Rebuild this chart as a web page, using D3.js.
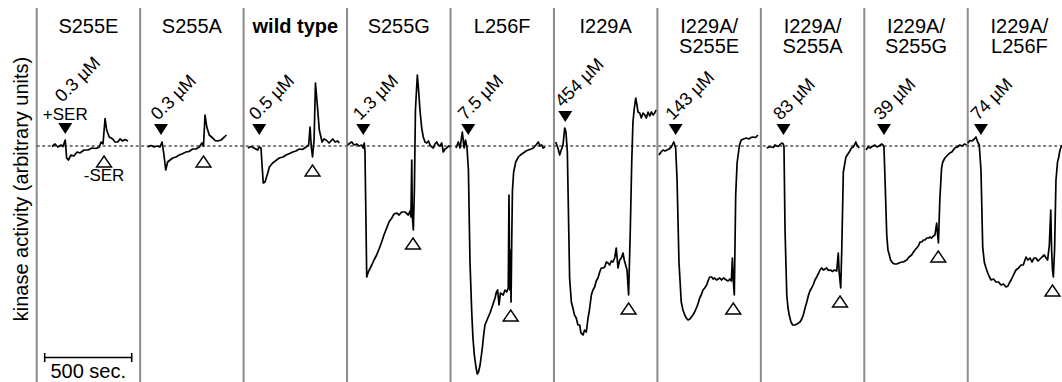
<!DOCTYPE html>
<html><head><meta charset="utf-8">
<script src="https://cdn.jsdelivr.net/npm/d3@7"></script>
<style>
html,body{margin:0;padding:0;background:#fff;}
svg{display:block;font-family:"Liberation Sans",Arial,Helvetica,sans-serif;}
</style>
</head><body>
<svg id="chart" width="1062" height="382"></svg>
<script>
// ---------------- data ----------------
const mutants = ["S255E","S255A","wild type","S255G","L256F","I229A","I229A/S255E","I229A/S255A","I229A/S255G","I229A/L256F"];
const concentrations = [0.3, 0.3, 0.5, 1.3, 7.5, 454, 143, 83, 39, 74];
const concUnit = "µM";
const addTimes = [164, 120, 90, 93, 102, 65, 105, 130, 113, 76];        // s, +SER (filled marker)
const removeTimes = [387, 364, 396, 379, 346, 429, 436, 455, 425, 487]; // s, -SER (open marker)
const addLabel = "+SER";
const removeLabel = "-SER";
const annotatedMutant = "S255E";
const referenceMutant = "wild type";
const scaleBarSeconds = 500;
const scaleBarLabel = "500 sec.";
const yLabel = "kinase activity (arbitrary units)";

// traces: [time (s), activity (a.u., 0 = baseline)]
const traceS255E = [[88,-0.5],[105,2],[122,-1],[140,1],[151,-0.5],[164,6],[172,-12],[182,-14],[197,-9],[214,-10],[232,-6],[249,-7],[272,-4],[295,-4],[318,-2],[341,-2.5],[360,-1],[370,4],[381,2],[393,27.5],[402,16],[417,9],[437,7],[450,4],[466,4],[479,7],[494,5],[507,6.5],[525,5]];
const traceS255A = [[43,-1],[62,0.5],[80,-1],[97,0],[114,-1],[126,4],[137,-9],[147,-24],[158,-16],[172,-14],[187,-12],[206,-11],[225,-9],[246,-7.5],[264,-6],[281,-5.5],[302,-3],[321,-3],[340,-1],[355,3],[364,0],[373,31],[383,19],[397,11],[417,8],[430,5.5],[446,5],[465,6],[484,9],[496,11]];
const traceWT = [[24,-2],[43,-0.5],[60,-2],[81,-4],[90,-1],[100,-2],[106,-19],[113,-37],[123,-36],[139,-27],[148,-21],[167,-17],[186,-14.5],[205,-12],[226,-11],[244,-9],[264,-7.5],[282,-6],[301,-5],[320,-3],[338,-3.5],[359,-1],[374,1],[382,19],[389,-1],[396,-11],[405,6],[413,63],[426,36],[435,16],[451,4],[462,7],[474,6],[491,3],[512,7],[526,4],[541,5],[550,3]];
const traceS255G = [[4,1],[17,3],[27,4],[40,1],[57,2],[69,0],[84,1],[93,-2],[99,3],[103,-6],[107,-54],[113,-131],[122,-126],[142,-119],[155,-114],[170,-109],[184,-103],[199,-96],[212,-89],[228,-82],[241,-76],[257,-72],[270,-68],[285,-67],[299,-69],[314,-66],[333,-66],[352,-69],[362,-65],[367,-71],[372,-14],[375,-70],[381,-84],[387,-44],[393,36],[404,71],[411,56],[419,36],[429,18],[438,9],[448,4],[458,3],[468,5],[477,1],[487,-1],[496,-2],[505,2],[515,4],[524,1],[534,0],[544,3],[553,-6],[563,-3],[573,-2],[583,0],[591,-1]];
const traceL256F = [[32,-2],[45,4],[55,-2],[68,14],[78,-2],[86,6],[95,-2],[103,-24],[112,-116],[122,-166],[129,-192],[137,-209],[147,-222],[154,-228],[161,-226],[170,-219],[183,-202],[190,-190],[198,-179],[217,-171],[227,-167],[237,-162],[256,-152],[264,-146],[271,-144],[279,-159],[287,-147],[303,-149],[313,-144],[323,-146],[332,-142],[336,-49],[341,-144],[345,-104],[348,-156],[352,-94],[356,-44],[363,-26],[375,-16],[390,-11],[402,-9],[418,-7],[434,-5],[447,-4],[463,-3],[476,-2],[491,1],[505,4],[514,0],[524,1],[532,-2],[543,-1]];
const traceI229A = [[10,4],[23,-2],[33,-9],[42,-4],[52,1],[62,18],[69,14],[77,-6],[82,-54],[90,-132],[100,-156],[109,-162],[118,-169],[128,-172],[138,-179],[148,-179],[155,-187],[167,-189],[176,-184],[186,-186],[196,-172],[204,-164],[215,-149],[224,-144],[234,-141],[243,-135],[253,-132],[263,-126],[272,-122],[282,-122],[292,-121],[301,-116],[311,-117],[320,-119],[330,-115],[339,-116],[349,-112],[358,-102],[368,-122],[378,-114],[387,-112],[397,-107],[404,-114],[412,-119],[420,-124],[429,-149],[439,-82],[447,-16],[454,24],[462,38],[470,48],[477,41],[483,34],[493,33],[502,28],[512,33],[522,31],[531,28],[541,34],[551,30],[560,34],[570,31],[579,33],[587,36]];
const traceI229A_S255E = [[9,-9],[21,-6],[32,-4],[44,-5],[55,-4],[67,-3],[80,-1],[94,4],[105,-2],[113,-34],[124,-116],[137,-156],[147,-164],[157,-169],[166,-172],[176,-174],[187,-173],[204,-169],[214,-166],[224,-162],[233,-158],[243,-152],[252,-149],[262,-144],[272,-142],[283,-139],[291,-135],[300,-131],[312,-131],[320,-133],[329,-132],[340,-134],[358,-132],[368,-134],[380,-132],[396,-134],[406,-135],[417,-133],[425,-135],[431,-112],[436,-134],[442,-149],[450,-49],[458,-17],[464,-9],[472,1],[482,6],[495,7],[511,8],[526,7],[538,8.5],[549,9],[564,8.5],[578,11]];
const traceI229A_S255A = [[34,-2],[47,-1],[62,-1],[72,-1.5],[81,1],[99,-0.5],[120,3],[129,2],[133,-1],[139,-84],[149,-149],[156,-162],[163,-169],[173,-176],[183,-179],[196,-179],[208,-178],[225,-176],[235,-173],[244,-169],[254,-162],[264,-156],[274,-149],[282,-145],[292,-142],[303,-138],[311,-134],[321,-131],[331,-127.5],[340,-124],[350,-122],[360,-124],[369,-123],[378,-122],[389,-124.5],[400,-124],[412,-125.5],[423,-124],[436,-125],[445,-107],[450,-126],[459,-142],[465,-104],[474,-26],[489,-11],[508,-6],[521,-2],[531,-1],[541,2],[546,4],[555,0],[566,-2]];
const traceI229A_S255G = [[10,-4],[21,-1],[33,-2],[44,-0.5],[61,1],[73,-1],[84,0],[100,2],[107,1],[113,-1],[121,-44],[129,-89],[136,-104],[144,-109],[151,-114],[163,-117],[174,-118],[186,-118],[199,-117],[215,-116],[224,-116],[234,-115],[244,-114],[257,-111],[272,-109],[283,-106],[291,-104],[301,-102],[311,-100],[320,-96],[330,-96],[340,-94],[349,-94],[359,-92],[369,-92],[378,-91],[387,-92],[397,-90],[406,-89],[416,-77],[420,-86],[426,-97],[434,-54],[444,-22],[451,-16],[463,-12],[477,-9.5],[491,-7],[503,-6],[520,-2],[535,-1],[549,1],[563,0],[575,2],[588,1]];
const traceI229A_L256F = [[0,3],[13,5.5],[24,5],[38,7],[47,9],[57,4],[66,1],[76,-24],[86,-101],[95,-116],[105,-122],[115,-127],[125,-131],[134,-134],[148,-133],[162,-136],[177,-136],[191,-139],[205,-138],[220,-141],[231,-140],[239,-137],[249,-134],[260,-130],[277,-124],[292,-122],[306,-119],[319,-119],[335,-111],[346,-114],[358,-112],[369,-116],[381,-112],[392,-112],[404,-115],[415,-113],[427,-111],[440,-109],[450,-112],[459,-114],[469,-99],[477,-64],[482,-104],[487,-124],[492,-131],[499,-104],[507,-34],[516,-16],[523,-11],[530,-4],[542,1]];
const traces = [traceS255E, traceS255A, traceWT, traceS255G, traceL256F, traceI229A, traceI229A_S255E, traceI229A_S255A, traceI229A_S255G, traceI229A_L256F];

// ---------------- layout ----------------
const W = 1062, H = 382;
const svg = d3.select("#chart");
const panelW = 103.45;
const left0 = 36.7;
const panelX = d3.scaleBand().domain(mutants).range([left0, left0 + panelW * mutants.length]).paddingInner(0).paddingOuter(0);
const tScale = d3.scaleLinear().domain([0, 500]).range([0, 87]);
const yScale = d3.scaleLinear().domain([-230, 80]).range([376, 66]);
const base = yScale(0);

// panel dividers
svg.append("g").selectAll("line").data(mutants).join("line")
  .attr("x1", d => panelX(d)).attr("x2", d => panelX(d))
  .attr("y1", 8).attr("y2", H)
  .attr("stroke", "#8c8c8c").attr("stroke-width", 2);

// dashed baseline
svg.append("line")
  .attr("x1", left0).attr("x2", W)
  .attr("y1", base).attr("y2", base)
  .attr("stroke", "#555").attr("stroke-width", 1.3)
  .attr("stroke-dasharray", "3,2.5");

// titles
const titles = svg.append("g").attr("text-anchor", "middle").attr("font-size", 20).attr("fill", "#000");
mutants.forEach(m => {
  const lines = m.split(/(?<=\/)/);
  const t = titles.append("text")
    .attr("x", panelX(m) + panelW / 2)
    .attr("y", 33)
    .attr("font-weight", m === referenceMutant ? "bold" : "normal");
  lines.forEach((ln, i) => {
    t.append("tspan").attr("x", panelX(m) + panelW / 2).attr("y", 33 + i * 20).text(ln);
  });
});

// traces
const g = svg.append("g");
mutants.forEach((m, i) => {
  const x0 = panelX(m);
  const line = d3.line().x(d => x0 + tScale(d[0])).y(d => yScale(d[1]));
  g.append("path").datum(traces[i]).attr("d", line)
    .attr("fill", "none").attr("stroke", "#000").attr("stroke-width", 1.7)
    .attr("stroke-linejoin", "round");

  const data = traces[i];
  // add marker (filled)
  const ax = x0 + tScale(addTimes[i]);
  const near = data.filter(d => Math.abs(d[0] - addTimes[i]) <= 12);
  const maxV = d3.max(near, d => d[1]);
  const tip = Math.min(base - 11, yScale(maxV) - 6);
  const triTop = tip - 11;
  g.append("path")
    .attr("d", `M${ax - 7},${triTop}L${ax + 7},${triTop}L${ax},${tip}Z`)
    .attr("fill", "#000");

  // remove marker (open)
  const rx = x0 + tScale(removeTimes[i]);
  const nearR = data.filter(d => Math.abs(d[0] - removeTimes[i]) <= 8);
  const minV = d3.min(nearR, d => d[1]);
  const top = Math.max(yScale(minV) + 8, base + 10);
  g.append("path")
    .attr("d", `M${rx},${top}L${rx + 7.5},${top + 11}L${rx - 7.5},${top + 11}Z`)
    .attr("fill", "#fff").attr("stroke", "#000").attr("stroke-width", 1.4);

  // concentration label
  const annotated = m === annotatedMutant;
  const lx = ax - 3, ly = annotated ? triTop - 20 : triTop - 3;
  g.append("text")
    .attr("transform", `translate(${lx},${ly}) rotate(-45)`)
    .attr("font-size", 18).attr("fill", "#000")
    .text(`${concentrations[i]} ${concUnit}`);

  if (annotated) {
    g.append("text").attr("x", ax).attr("y", triTop - 3)
      .attr("text-anchor", "middle").attr("font-size", 17).attr("fill", "#000").text(addLabel);
    g.append("text").attr("x", rx).attr("y", top + 25)
      .attr("text-anchor", "middle").attr("font-size", 17).attr("fill", "#000").text(removeLabel);
  }
});

// y label
svg.append("text")
  .attr("transform", `translate(28,189) rotate(-90)`)
  .attr("text-anchor", "middle").attr("font-size", 20).attr("fill", "#000")
  .text(yLabel);

// scale bar
const sbx = panelX(mutants[0]) + 8, sby = 357.5, sbw = tScale(scaleBarSeconds);
const sb = svg.append("g").attr("stroke", "#000").attr("stroke-width", 1.6);
sb.append("line").attr("x1", sbx).attr("x2", sbx + sbw).attr("y1", sby).attr("y2", sby);
sb.append("line").attr("x1", sbx).attr("x2", sbx).attr("y1", sby - 4.5).attr("y2", sby + 4.5);
sb.append("line").attr("x1", sbx + sbw).attr("x2", sbx + sbw).attr("y1", sby - 4.5).attr("y2", sby + 4.5);
svg.append("text").attr("x", sbx + sbw / 2).attr("y", 377.5)
  .attr("text-anchor", "middle").attr("font-size", 20).attr("fill", "#000").text(scaleBarLabel);
</script>
</body></html>
